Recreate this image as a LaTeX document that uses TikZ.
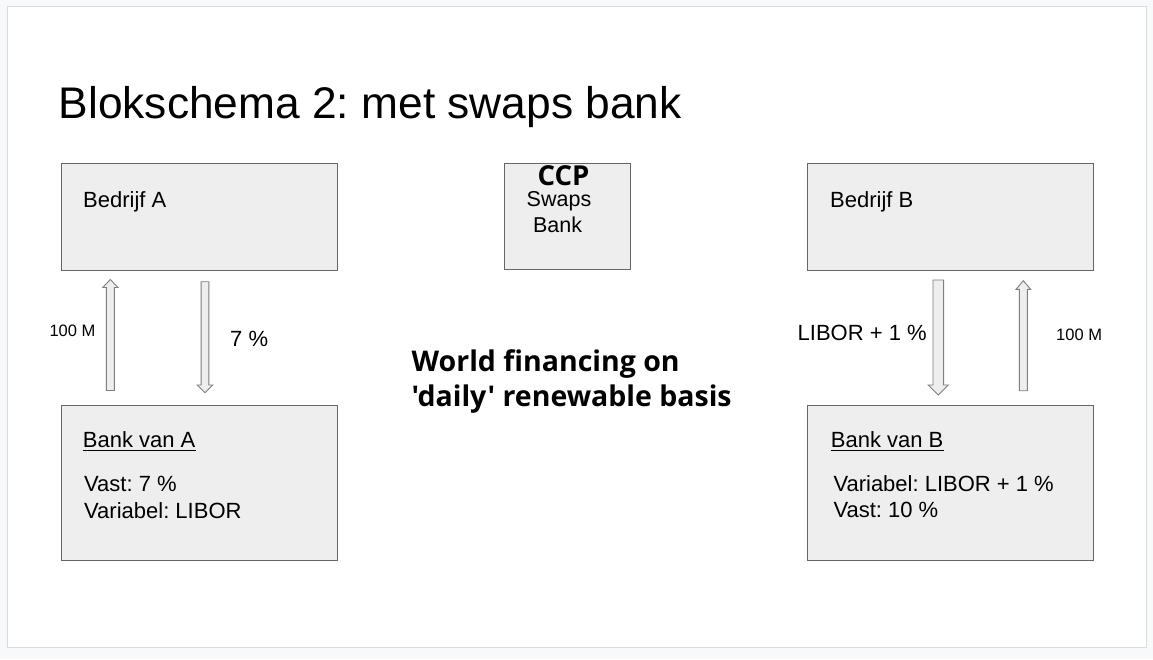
\documentclass[tikz,border=0pt]{standalone}
\usepackage{fontspec}
\setmainfont{Liberation Sans}
\newfontfamily\boldsans{Open Sans}
\definecolor{boxfill}{HTML}{EEEEEE}
\definecolor{boxline}{HTML}{666666}
\definecolor{pagebg}{HTML}{F8F9FA}
\definecolor{slideline}{HTML}{DADCE0}
\definecolor{arrline}{HTML}{7F7F7F}
\newcommand\BlkArrow[6]{%
  \draw[blkarrow] ({#1-#5},#4) -- ({#1-#5},#3) -- ({#1-#6},#3) -- (#1,#2)
    -- ({#1+#6},#3) -- ({#1+#5},#3) -- ({#1+#5},#4) -- cycle;}
\begin{document}
\frenchspacing
\begin{tikzpicture}[x=1pt,y=-1pt,
  box/.style={draw=boxline,fill=boxfill,line width=0.9pt},
  blkarrow/.style={draw=arrline,fill=boxfill,line width=0.9pt,line join=miter},
  txt/.style={inner sep=0pt,anchor=base west,font=\fontsize{22}{26}\selectfont},
  small/.style={inner sep=0pt,anchor=base west,font=\fontsize{16.5}{20}\selectfont},
  bold/.style={inner sep=0pt,anchor=base west,font=\boldsans\bfseries\fontsize{28.5}{34}\selectfont}]
\useasboundingbox (0,0) rectangle (1153,659);
\fill[pagebg] (0,0) rectangle (1153,659);
\draw[slideline,fill=white,line width=1pt] (7,6.5) rectangle (1146,647);

\node[inner sep=0pt,anchor=base west,font=\fontsize{44.3}{52}\selectfont] (title) at (58.5,118) {Blokschema 2: met swaps bank};

% boxes
\node[box,minimum width=276pt,minimum height=107pt,anchor=north west] (ba) at (60.5,162.5) {};
\node[box,minimum width=126pt,minimum height=106.5pt,anchor=north west] (ccp) at (504,162.7) {};
\node[box,minimum width=286pt,minimum height=107pt,anchor=north west] (bb) at (806.7,163.3) {};
\node[box,minimum width=276pt,minimum height=155pt,anchor=north west] (bka) at (60.5,404.5) {};
\node[box,minimum width=286pt,minimum height=155pt,anchor=north west] (bkb) at (806.7,404.5) {};

% texts in boxes
\node[txt] (tba) at (83,207.3) {Bedrijf A};
\node[txt] (tbb) at (830,207.3) {Bedrijf B};
\node[inner sep=0pt,anchor=base,font=\boldsans\bfseries\fontsize{27.5}{32}\selectfont] (tccp) at (563.5,185.5) {CCP};
\node[inner sep=0pt,anchor=base,font=\fontsize{21.5}{26}\selectfont] (tsw) at (559,206.7) {Swaps};
\node[inner sep=0pt,anchor=base,font=\fontsize{21.5}{26}\selectfont] (tbk) at (557.5,232.3) {Bank};

\node[txt] (tka) at (82.7,447.3) {Bank van A};
\draw[line width=1.4pt] ([yshift=-3.2pt]tka.base west) -- ([yshift=-3.2pt]tka.base east);
\node[txt] (ka1) at (84,491) {Vast: 7 \%};
\node[txt] (ka2) at (84,518.3) {Variabel: LIBOR};

\node[txt] (tkb) at (830.7,447.3) {Bank van B};
\draw[line width=1.4pt] ([yshift=-3.2pt]tkb.base west) -- ([yshift=-3.2pt]tkb.base east);
\node[txt] (kb1) at (833.3,491) {Variabel: LIBOR + 1 \%};
\node[txt] (kb2) at (833.3,517.7) {Vast: 10 \%};

% arrow labels
\node[small] (m1) at (49.3,336) {100 M};
\node[txt] (p7) at (230,346.7) {7 \%};
\node[txt] (lib) at (797.5,340) {LIBOR + 1 \%};
\node[small] (m2) at (1056,340) {100 M};

% centre text
\node[bold] (w1) at (411.5,371.5) {World financing on};
\node[bold] (w2) at (411.5,406.5) {'daily' renewable basis};

% block arrows: x, tip y, head-base y, tail y, shaft half, head half
\BlkArrow{110.3}{279.5}{287.5}{390.5}{4}{7.6}
\BlkArrow{205}{392.7}{385}{281.7}{3.9}{7.7}
\BlkArrow{938.3}{395}{385}{280}{5.3}{10}
\BlkArrow{1023.3}{280.7}{289.3}{390.7}{4}{7.3}
\end{tikzpicture}
\end{document}
